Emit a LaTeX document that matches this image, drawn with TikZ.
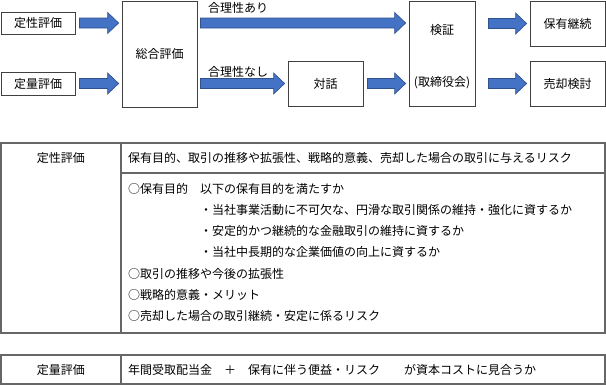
\documentclass[tikz,border=0pt]{standalone}
\usepackage{fontspec}
\setmainfont{Noto Sans CJK JP}
\usetikzlibrary{calc}
\definecolor{arrowblue}{RGB}{68,114,196}
\definecolor{arrowedge}{RGB}{47,82,143}

%% block arrow: [start gap]{from node}{to node}{node giving the height}
\newcommand\bluearrow[4][4]{%
  \filldraw[blockarrow] let \p1=(#2.east), \p2=(#3.west), \p3=(#4) in
    (\x1+#1pt,\y3+5pt) -- (\x2-14pt,\y3+5pt) -- (\x2-14pt,\y3+10.5pt)
    -- (\x2-3pt,\y3) -- (\x2-14pt,\y3-10.5pt) -- (\x2-14pt,\y3-5pt)
    -- (\x1+#1pt,\y3-5pt) -- cycle;}

\begin{document}
\begin{tikzpicture}[x=1pt,y=-1pt, font=\fontsize{12}{14}\selectfont,
  flowbox/.style={draw=black!75, line width=0.8pt, inner sep=0pt},
  blockarrow/.style={fill=arrowblue, draw=arrowedge, line width=0.7pt},
  tableline/.style={draw=black!60, line width=1.2pt},
  celltext/.style={anchor=west, inner sep=0pt}]
  \useasboundingbox (0,0) rectangle (606,386);
  %% flow chart
  \node[flowbox, minimum width=74pt, minimum height=22pt] (qual) at (38,23) {定性評価};
  \node[flowbox, minimum width=74pt, minimum height=23pt] (quan) at (38,83.5) {定量評価};
  \node[flowbox, minimum width=75pt, minimum height=106pt] (total) at (159.5,54) {総合評価};
  \node[flowbox, minimum width=75pt, minimum height=45pt] (dialog) at (325.5,83.5) {対話};
  \node[flowbox, minimum width=66pt, minimum height=105pt] (verify) at (442,53.5) {};
  \node (verifytop) at (442,30) {検証};
  \node (verifybot) at (442,83) {(取締役会)};
  \node[flowbox, minimum width=75pt, minimum height=45pt] (keep) at (567.5,23.5) {保有継続};
  \node[flowbox, minimum width=75pt, minimum height=45pt] (sell) at (567.5,83.5) {売却検討};
  \node[celltext] (fitok) at (208,8) {合理性あり};
  \node[celltext] (fitng) at (208,72) {合理性なし};
  \bluearrow{qual}{total}{qual}
  \bluearrow{quan}{total}{quan}
  \bluearrow[3]{total}{verify}{qual}
  \bluearrow[3]{total}{dialog}{quan}
  \bluearrow{dialog}{verify}{quan}
  \bluearrow[13]{verify}{keep}{keep}
  \bluearrow[13]{verify}{sell}{sell}
  %% qualitative table
  \draw[tableline] (1,143) rectangle (605,333);
  \draw[tableline] (121,143) -- (121,333);
  \draw[tableline] (121,173) -- (605,173);
  \node (qualname) at (61,158) {定性評価};
  \node[celltext] (qualhead) at (128,158) {保有目的、取引の推移や拡張性、戦略的意義、売却した場合の取引に与えるリスク};
  \node[celltext] (purpose) at (128,188.5) {○保有目的　以下の保有目的を満たすか};
  \node[celltext] (purposea) at (200,209.8) {・当社事業活動に不可欠な、円滑な取引関係の維持・強化に資するか};
  \node[celltext] (purposeb) at (200,231.1) {・安定的かつ継続的な金融取引の維持に資するか};
  \node[celltext] (purposec) at (200,252.4) {・当社中長期的な企業価値の向上に資するか};
  \node[celltext] (trend) at (128,273.7) {○取引の推移や今後の拡張性};
  \node[celltext] (strategy) at (128,295) {○戦略的意義・メリット};
  \node[celltext] (risk) at (128,316.3) {○売却した場合の取引継続・安定に係るリスク};
  %% quantitative table
  \draw[tableline] (1,355) rectangle (605,384);
  \draw[tableline] (121,355) -- (121,384);
  \node (quanname) at (61,369.5) {定量評価};
  \node[celltext] (quanrow) at (128,369.5) {年間受取配当金　＋　保有に伴う便益・リスク　　が資本コストに見合うか};
\end{tikzpicture}
\end{document}
